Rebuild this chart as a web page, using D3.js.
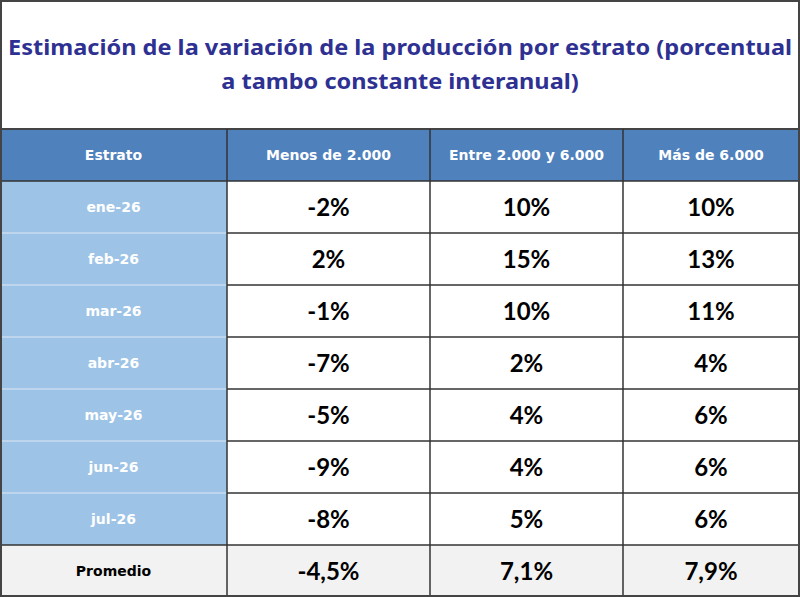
<!DOCTYPE html>
<html>
<head>
<meta charset="utf-8">
<script src="https://cdn.jsdelivr.net/npm/d3@7"></script>
<style>
  body { margin: 0; background: #ffffff; }
  svg { display: block; }
</style>
</head>
<body>
<div id="chart"></div>
<script>
const titleLines = ['Estimación de la variación de la producción por estrato (porcentual', 'a tambo constante interanual)']
const columns = ['Estrato', 'Menos de 2.000', 'Entre 2.000 y 6.000', 'Más de 6.000']
const months = ['ene-26', 'feb-26', 'mar-26', 'abr-26', 'may-26', 'jun-26', 'jul-26']
const menos2000 = [-2, 2, -1, -7, -5, -9, -8]
const entre2000y6000 = [10, 15, 10, 2, 4, 4, 5]
const mas6000 = [10, 13, 11, 4, 6, 6, 6]
const promedio = [-4.5, 7.1, 7.9]

const width = 800, height = 597
const tableTop = 129

const svg = d3.select('#chart').append('svg')
  .attr('width', width)
  .attr('height', height)

// column edges (layout only)
const colEdges = [0, 227, 430, 623, 799]
const x = i => colEdges[i]
const colW = i => colEdges[i + 1] - colEdges[i]

const rowKeys = ['header'].concat(months).concat(['Promedio'])
const y = d3.scaleBand()
  .domain(rowKeys)
  .range([tableTop, 597])

// spanish style: hyphen minus, comma decimal
const locale = d3.formatLocale({ decimal: ',', thousands: '.', grouping: [3], currency: ['$', ''], minus: '-' })
const fmtInt = v => locale.format('d')(v) + '%'
const fmtDec = v => locale.format('.1f')(v) + '%'

const rows = months.map((m, i) => ({
  key: m,
  label: m,
  values: [menos2000[i], entre2000y6000[i], mas6000[i]].map(fmtInt)
}))
rows.push({ key: 'Promedio', label: 'Promedio', values: promedio.map(fmtDec) })

// title
const title = svg.append('g')
  .selectAll('text')
  .data(titleLines)
  .join('text')
  .attr('x', width / 2)
  .attr('y', (d, i) => 55 + i * 34)
  .attr('text-anchor', 'middle')
  .attr('font-family', 'Noto Sans')
  .attr('font-weight', 'bold')
  .attr('font-size', 22)
  .attr('fill', '#2E3192')
  .text(d => d)

// squeeze title to the width of the original
const natural = title.nodes()[0].getComputedTextLength()
const squeeze = 784 / natural
title.each(function () {
  const len = this.getComputedTextLength()
  d3.select(this)
    .attr('textLength', len * squeeze)
    .attr('lengthAdjust', 'spacingAndGlyphs')
})

// header
const header = svg.append('g')
header.selectAll('rect')
  .data(columns)
  .join('rect')
  .attr('x', (d, i) => x(i))
  .attr('y', y('header'))
  .attr('width', (d, i) => colW(i))
  .attr('height', y.bandwidth())
  .attr('fill', '#4F81BD')

header.selectAll('text')
  .data(columns)
  .join('text')
  .attr('x', (d, i) => x(i) + colW(i) / 2)
  .attr('y', y('header') + y.bandwidth() / 2 + 5)
  .attr('text-anchor', 'middle')
  .attr('font-family', 'DejaVu Sans')
  .attr('font-weight', 'bold')
  .attr('font-size', 14)
  .attr('fill', '#ffffff')
  .text(d => d)

// body rows
const body = svg.append('g')
const rowG = body.selectAll('g')
  .data(rows)
  .join('g')
  .attr('transform', d => `translate(0,${y(d.key)})`)

rowG.append('rect')
  .attr('x', x(0))
  .attr('width', colW(0))
  .attr('height', y.bandwidth())
  .attr('fill', d => d.key === 'Promedio' ? '#F2F2F2' : '#9DC3E6')

rowG.append('rect')
  .attr('x', x(1))
  .attr('width', x(4) - x(1))
  .attr('height', y.bandwidth())
  .attr('fill', d => d.key === 'Promedio' ? '#F2F2F2' : '#ffffff')

rowG.append('text')
  .attr('x', x(0) + colW(0) / 2)
  .attr('y', y.bandwidth() / 2 + 5)
  .attr('text-anchor', 'middle')
  .attr('font-family', 'DejaVu Sans')
  .attr('font-weight', 'bold')
  .attr('font-size', 14)
  .attr('fill', d => d.key === 'Promedio' ? '#000000' : '#ffffff')
  .text(d => d.label)

rowG.selectAll('text.val')
  .data(d => d.values)
  .join('text')
  .attr('class', 'val')
  .attr('x', (d, i) => x(i + 1) + colW(i + 1) / 2)
  .attr('y', y.bandwidth() / 2 + 9)
  .attr('text-anchor', 'middle')
  .attr('font-family', 'Lato')
  .attr('font-weight', 'bold')
  .attr('font-size', 24)
  .attr('fill', '#000000')
  .text(d => d)

// grid lines
const grid = svg.append('g')
  .attr('fill', 'none')

// light separators inside first column
grid.selectAll('line.light')
  .data(months.slice(1))
  .join('line')
  .attr('class', 'light')
  .attr('x1', x(0))
  .attr('x2', x(1))
  .attr('y1', d => y(d))
  .attr('y2', d => y(d))
  .attr('stroke', '#c9dcef')
  .attr('stroke-width', 1.5)

grid.selectAll('line.h')
  .data(rowKeys.slice(1))
  .join('line')
  .attr('class', 'h')
  .attr('x1', d => (months.indexOf(d) > 0) ? x(1) : x(0))
  .attr('x2', x(4))
  .attr('y1', d => y(d))
  .attr('y2', d => y(d))
  .attr('stroke', '#333333')
  .attr('stroke-width', 1.5)

grid.append('line')
  .attr('x1', 0).attr('x2', width)
  .attr('y1', tableTop).attr('y2', tableTop)
  .attr('stroke', '#444444')
  .attr('stroke-width', 2)

grid.selectAll('line.v')
  .data([1, 2, 3])
  .join('line')
  .attr('class', 'v')
  .attr('x1', d => x(d))
  .attr('x2', d => x(d))
  .attr('y1', tableTop)
  .attr('y2', height)
  .attr('stroke', '#333333')
  .attr('stroke-width', 1.5)

grid.append('rect')
  .attr('x', 1)
  .attr('y', 1)
  .attr('width', width - 2)
  .attr('height', height - 2)
  .attr('stroke', '#444444')
  .attr('stroke-width', 2)
</script>
</body>
</html>
